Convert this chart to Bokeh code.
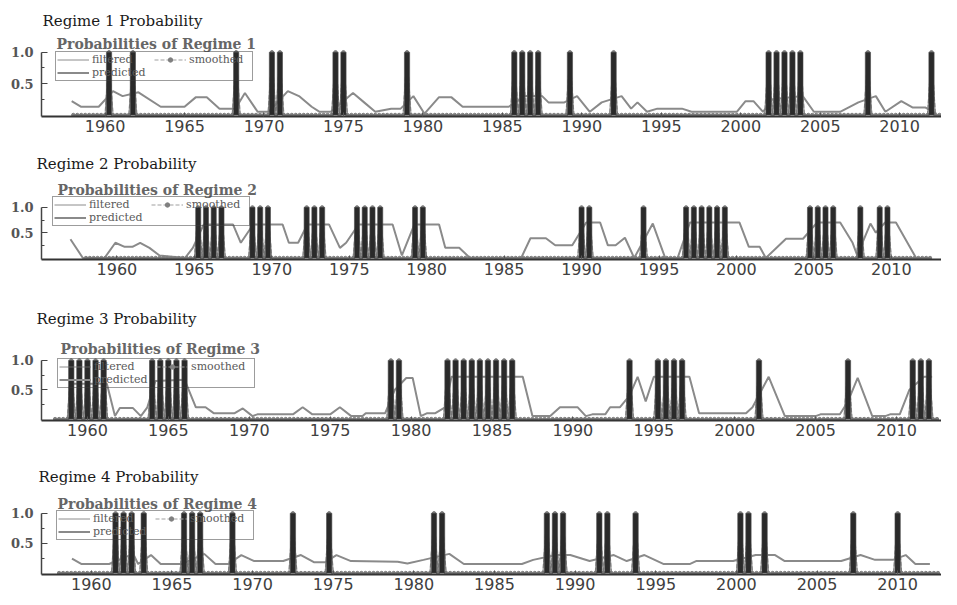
import numpy as np
from bokeh.plotting import figure
from bokeh.layouts import column
from bokeh.models import (FixedTicker, Label, Legend, LegendItem, Range1d,
                          PrintfTickFormatter, Title)
from bokeh.embed import file_html
from bokeh.resources import INLINE

# ---------------- data ----------------
year_ticks = [1960, 1965, 1970, 1975, 1980, 1985, 1990, 1995, 2000, 2005, 2010]
prob_ticks = [0.5, 1.0]
prob_minor_ticks = [0.25, 0.75]
regime_names = ["Regime 1", "Regime 2", "Regime 3", "Regime 4"]
legend_labels = ["filtered", "smoothed", "predicted"]

# quarterly sample of the model
sample_quarters = list(np.arange(1958.0, 2012.51, 0.25))

# dates at which the filtered probability of each regime is 1
regime1_on = [1960.25, 1961.75, 1968.25, 1970.5, 1971.0, 1974.5, 1975.0, 1979.0,
              1985.75, 1986.25, 1986.75, 1987.25, 1989.25, 1992.0,
              2001.75, 2002.25, 2002.75, 2003.25, 2003.75, 2008.0, 2012.0]
regime2_on = [1965.25, 1965.75, 1966.25, 1966.75, 1968.75, 1969.25, 1969.75,
              1972.25, 1972.75, 1973.25, 1975.5, 1976.0, 1976.5, 1977.0,
              1979.25, 1979.75, 1990.0, 1990.5, 1994.0,
              1996.75, 1997.25, 1997.75, 1998.25, 1998.75, 1999.25,
              2004.75, 2005.25, 2005.75, 2006.25, 2008.0, 2009.25, 2009.75]
regime3_on = [1959.0, 1959.5, 1960.0, 1960.5, 1961.0, 1964.0, 1964.5, 1965.0,
              1965.5, 1966.0, 1978.75, 1979.25, 1982.25, 1982.75, 1983.25,
              1983.75, 1984.25, 1984.75, 1985.25, 1985.75, 1986.25, 1993.5,
              1995.25, 1995.75, 1996.25, 1996.75, 2001.5, 2007.0,
              2011.0, 2011.5, 2012.0]
regime4_on = [1961.5, 1962.0, 1962.5, 1963.25, 1965.75, 1966.25, 1966.75,
              1968.75, 1972.5, 1974.75, 1981.25, 1981.75, 1988.25, 1988.75,
              1989.25, 1991.5, 1992.0, 1993.75, 2000.25, 2000.75, 2001.75,
              2007.25, 2010.0]

# predicted probabilities (date, probability)
regime1_pred_t = [1957.9, 1958.5, 1959.6, 1960.5, 1961.1, 1962.1, 1963.5, 1965.0,
                  1965.7, 1966.4, 1967.2, 1968.2, 1968.8, 1969.6, 1970.3, 1971.5,
                  1972.2, 1973.0, 1973.5, 1974.2, 1975.6, 1976.3, 1977.0, 1978.0,
                  1978.6, 1979.4, 1980.1, 1981.0, 1981.8, 1982.5, 1985.4, 1986.4,
                  1987.5, 1987.9, 1988.9, 1989.7, 1990.5, 1991.25, 1992.5, 1993.1,
                  1993.5, 1994.1, 1994.75, 1996.3, 1996.9, 1999.75, 2000.3, 2000.8,
                  2001.4, 2002.0, 2003.9, 2004.6, 2006.25, 2007.4, 2008.5, 2009.1,
                  2010.1, 2010.8, 2011.6, 2012.3]
regime1_pred_p = [0.22, 0.13, 0.13, 0.38, 0.30, 0.36, 0.13, 0.13,
                  0.28, 0.28, 0.10, 0.10, 0.35, 0.05, 0.05, 0.38,
                  0.30, 0.13, 0.05, 0.05, 0.35, 0.20, 0.05, 0.10,
                  0.10, 0.30, 0.02, 0.28, 0.28, 0.13, 0.13, 0.30,
                  0.30, 0.20, 0.20, 0.30, 0.05, 0.20, 0.30, 0.10,
                  0.20, 0.05, 0.10, 0.10, 0.05, 0.05, 0.22, 0.22,
                  0.05, 0.25, 0.30, 0.05, 0.05, 0.20, 0.30, 0.05,
                  0.22, 0.12, 0.12, 0.02]

regime2_pred_t = [1957.0, 1957.8, 1959.2, 1959.9, 1960.5, 1961.0, 1961.5, 1962.1,
                  1962.75, 1964.4, 1964.9, 1965.6, 1967.5, 1968.0, 1968.8, 1970.7,
                  1971.1, 1971.7, 1972.3, 1973.7, 1974.4, 1974.8, 1975.6, 1977.8,
                  1978.4, 1979.2, 1980.8, 1981.2, 1982.1, 1982.8, 1986.1, 1986.7,
                  1987.7, 1988.3, 1989.4, 1990.3, 1991.2, 1991.7, 1992.2, 1992.8,
                  1993.4, 1994.6, 1995.4, 1996.2, 1997.0, 2000.2, 2000.8, 2001.5,
                  2001.9, 2003.2, 2004.3, 2005.2, 2006.7, 2007.5, 2007.8, 2008.65,
                  2009.0, 2009.6, 2010.3, 2011.6, 2012.5]
regime2_pred_p = [0.37, 0.0, 0.0, 0.30, 0.22, 0.22, 0.30, 0.20,
                  0.05, 0.0, 0.20, 0.66, 0.66, 0.30, 0.66, 0.66,
                  0.30, 0.30, 0.66, 0.66, 0.20, 0.30, 0.66, 0.66,
                  0.05, 0.66, 0.66, 0.20, 0.20, 0.0, 0.0, 0.39,
                  0.39, 0.25, 0.25, 0.70, 0.70, 0.25, 0.25, 0.40,
                  0.0, 0.68, 0.0, 0.0, 0.70, 0.70, 0.22, 0.22,
                  0.0, 0.38, 0.38, 0.70, 0.70, 0.30, 0.05, 0.68,
                  0.50, 0.70, 0.70, 0.0, 0.0]

regime3_pred_t = [1958.9, 1961.2, 1961.7, 1962.0, 1962.8, 1963.3, 1963.7, 1964.2,
                  1966.0, 1966.7, 1967.3, 1967.8, 1969.1, 1969.6, 1970.2, 1970.5,
                  1972.7, 1973.3, 1973.9, 1975.0, 1975.6, 1976.3, 1977.0, 1977.2,
                  1978.4, 1979.0, 1979.7, 1980.1, 1980.6, 1981.0, 1981.5, 1982.1,
                  1982.5, 1986.9, 1987.5, 1988.6, 1989.2, 1990.3, 1990.8, 1991.2,
                  1992.0, 1992.3, 1992.9, 1993.5, 1994.0, 1994.5, 1995.0, 1997.2,
                  1997.8, 2000.7, 2001.1, 2002.1, 2003.1, 2005.0, 2005.3, 2006.5,
                  2007.0, 2007.6, 2008.5, 2009.3, 2009.6, 2010.2, 2010.8, 2011.7,
                  2012.2]
regime3_pred_p = [0.60, 0.60, 0.05, 0.19, 0.19, 0.05, 0.20, 0.65,
                  0.67, 0.20, 0.20, 0.10, 0.10, 0.18, 0.05, 0.08,
                  0.08, 0.20, 0.08, 0.08, 0.20, 0.05, 0.05, 0.10,
                  0.10, 0.50, 0.70, 0.70, 0.05, 0.10, 0.10, 0.20,
                  0.72, 0.72, 0.05, 0.05, 0.20, 0.20, 0.05, 0.08,
                  0.08, 0.20, 0.20, 0.40, 0.72, 0.30, 0.72, 0.72,
                  0.10, 0.10, 0.20, 0.72, 0.05, 0.05, 0.08, 0.08,
                  0.30, 0.70, 0.05, 0.05, 0.08, 0.08, 0.50, 0.72,
                  0.72]

regime4_pred_t = [1958.8, 1959.4, 1961.1, 1962.6, 1962.9, 1963.7, 1964.3, 1965.6,
                  1967.0, 1967.7, 1968.5, 1969.3, 1970.1, 1971.9, 1973.0, 1973.8,
                  1974.5, 1975.2, 1976.1, 1979.0, 1979.6, 1980.6, 1982.2, 1983.1,
                  1986.7, 1987.4, 1988.8, 1989.7, 1990.9, 1992.4, 1993.2, 1994.3,
                  1995.5, 1997.1, 1997.5, 1999.8, 2001.2, 2002.4, 2003.0, 2006.5,
                  2007.7, 2008.6, 2009.7, 2010.5, 2011.1, 2012.0]
regime4_pred_p = [0.24, 0.15, 0.15, 0.32, 0.15, 0.30, 0.15, 0.15,
                  0.32, 0.15, 0.15, 0.30, 0.20, 0.20, 0.30, 0.18,
                  0.18, 0.30, 0.20, 0.19, 0.16, 0.22, 0.32, 0.15,
                  0.15, 0.22, 0.30, 0.30, 0.20, 0.30, 0.20, 0.30,
                  0.15, 0.15, 0.20, 0.20, 0.30, 0.30, 0.20, 0.20,
                  0.30, 0.22, 0.22, 0.30, 0.15, 0.15]

# ---------------- layout of the four panels ----------------
panels = [
    dict(on=regime1_on, pt=regime1_pred_t, pp=regime1_pred_p, h=143, top=36, bottom=27,
         left=35, x0=1956.0, x1=2012.63, y0=-0.025, y1=1.25, standoff=14, toff=1,
         ty=1.13, tx=15, lx=14, ly=35),
    dict(on=regime2_on, pt=regime2_pred_t, pp=regime2_pred_p, h=149, top=37, bottom=33,
         left=41, x0=1955.13, x1=2013.24, y0=-0.03, y1=1.53, standoff=16, toff=-5,
         ty=1.35, tx=16, lx=11, ly=33),
    dict(on=regime3_on, pt=regime3_pred_t, pp=regime3_pred_p, h=160, top=45, bottom=32,
         left=41, x0=1957.16, x1=2012.78, y0=-0.025, y1=1.39, standoff=19, toff=-5,
         ty=1.19, tx=19, lx=16, ly=32),
    dict(on=regime4_on, pt=regime4_pred_t, pp=regime4_pred_p, h=145, top=41, bottom=23,
         left=39, x0=1956.91, x1=2012.72, y0=-0.025, y1=1.33, standoff=16, toff=-3,
         ty=1.15, tx=16, lx=15, ly=34),
]

SERIF = "DejaVu Serif"
figs = []
for name, cfg in zip(regime_names, panels):
    head = Title(text=f"{name} Probability", align="left", offset=cfg["toff"],
                 standoff=cfg["standoff"], text_font=SERIF, text_font_size="15px",
                 text_font_style="normal", text_color="#1a1a1a")
    p = figure(width=941, height=cfg["h"], output_backend="svg", toolbar_location=None,
               x_range=Range1d(cfg["x0"], cfg["x1"]),
               y_range=Range1d(cfg["y0"], cfg["y1"]),
               min_border_left=cfg["left"], min_border_right=0,
               min_border_top=cfg["top"], min_border_bottom=cfg["bottom"],
               title=head)
    p.outline_line_color = None
    p.xgrid.visible = False
    p.ygrid.visible = False

    on = np.array(cfg["on"])
    smooth = [1.0 if np.any(np.abs(on - q) < 0.01) else 0.0 for q in sample_quarters]

    pred = p.line(cfg["pt"], cfg["pp"], line_color="#8a8a8a", line_width=2)
    sm_line = p.line(sample_quarters, smooth, line_color="#a0a0a0", line_width=1.2,
                     line_dash="4 2")
    sm_mark = p.scatter(sample_quarters, smooth, marker="circle", size=3.4,
                        fill_color="#808080", line_color="#808080")
    fl_line = p.line(sample_quarters, smooth, line_color="#707070", line_width=0.8)
    p.vbar(x=cfg["on"], bottom=0.0, top=1.0, width=0.33, fill_color="#2a2a2a",
           line_color="#4a4a4a", line_width=0.6)

    legend = Legend(items=[LegendItem(label=legend_labels[0], renderers=[fl_line]),
                           LegendItem(label=legend_labels[1], renderers=[sm_line, sm_mark]),
                           LegendItem(label=legend_labels[2], renderers=[pred])],
                    location=(cfg["lx"], cfg["ly"]), orientation="horizontal", ncols=2,
                    label_text_font=SERIF, label_text_font_size="11px",
                    label_text_color="#5a5a5a", border_line_color="#3a3a3a",
                    border_line_width=1.5, background_fill_alpha=0.0,
                    padding=1, spacing=0, margin=0, glyph_width=32, glyph_height=11,
                    label_height=11, label_width=62, label_standoff=3)
    p.add_layout(legend)

    p.add_layout(Label(x=cfg["tx"], x_units="screen", y=cfg["ty"], y_units="data",
                       text=f"Probabilities of {name}", text_font=SERIF,
                       text_font_style="bold", text_font_size="14px",
                       text_color="#666666", text_baseline="middle"))

    xa = p.xaxis[0]
    xa.ticker = FixedTicker(ticks=year_ticks)
    xa.axis_line_color = "#333333"
    xa.axis_line_width = 2
    xa.major_tick_in = 4
    xa.major_tick_out = 0
    xa.major_tick_line_color = "#555555"
    xa.minor_tick_line_color = None
    xa.major_label_text_font = "DejaVu Sans"
    xa.major_label_text_font_size = "16px"
    xa.major_label_text_color = "#404040"
    xa.major_label_standoff = 3

    ya = p.yaxis[0]
    ya.ticker = FixedTicker(ticks=prob_ticks, minor_ticks=prob_minor_ticks)
    ya.formatter = PrintfTickFormatter(format="%.1f")
    ya.bounds = (cfg["y0"], 1)
    ya.axis_line_color = "#444444"
    ya.axis_line_width = 1.5
    ya.major_tick_in = 6
    ya.major_tick_out = 0
    ya.minor_tick_in = 3
    ya.minor_tick_out = 0
    ya.major_tick_line_color = "#444444"
    ya.minor_tick_line_color = "#444444"
    ya.major_label_text_font = SERIF
    ya.major_label_text_font_style = "bold"
    ya.major_label_text_font_size = "13px"
    ya.major_label_text_color = "#555555"
    ya.major_label_standoff = 8
    figs.append(p)

layout = column(*figs, spacing=0)
open("out.html", "w").write(file_html(layout, INLINE))
